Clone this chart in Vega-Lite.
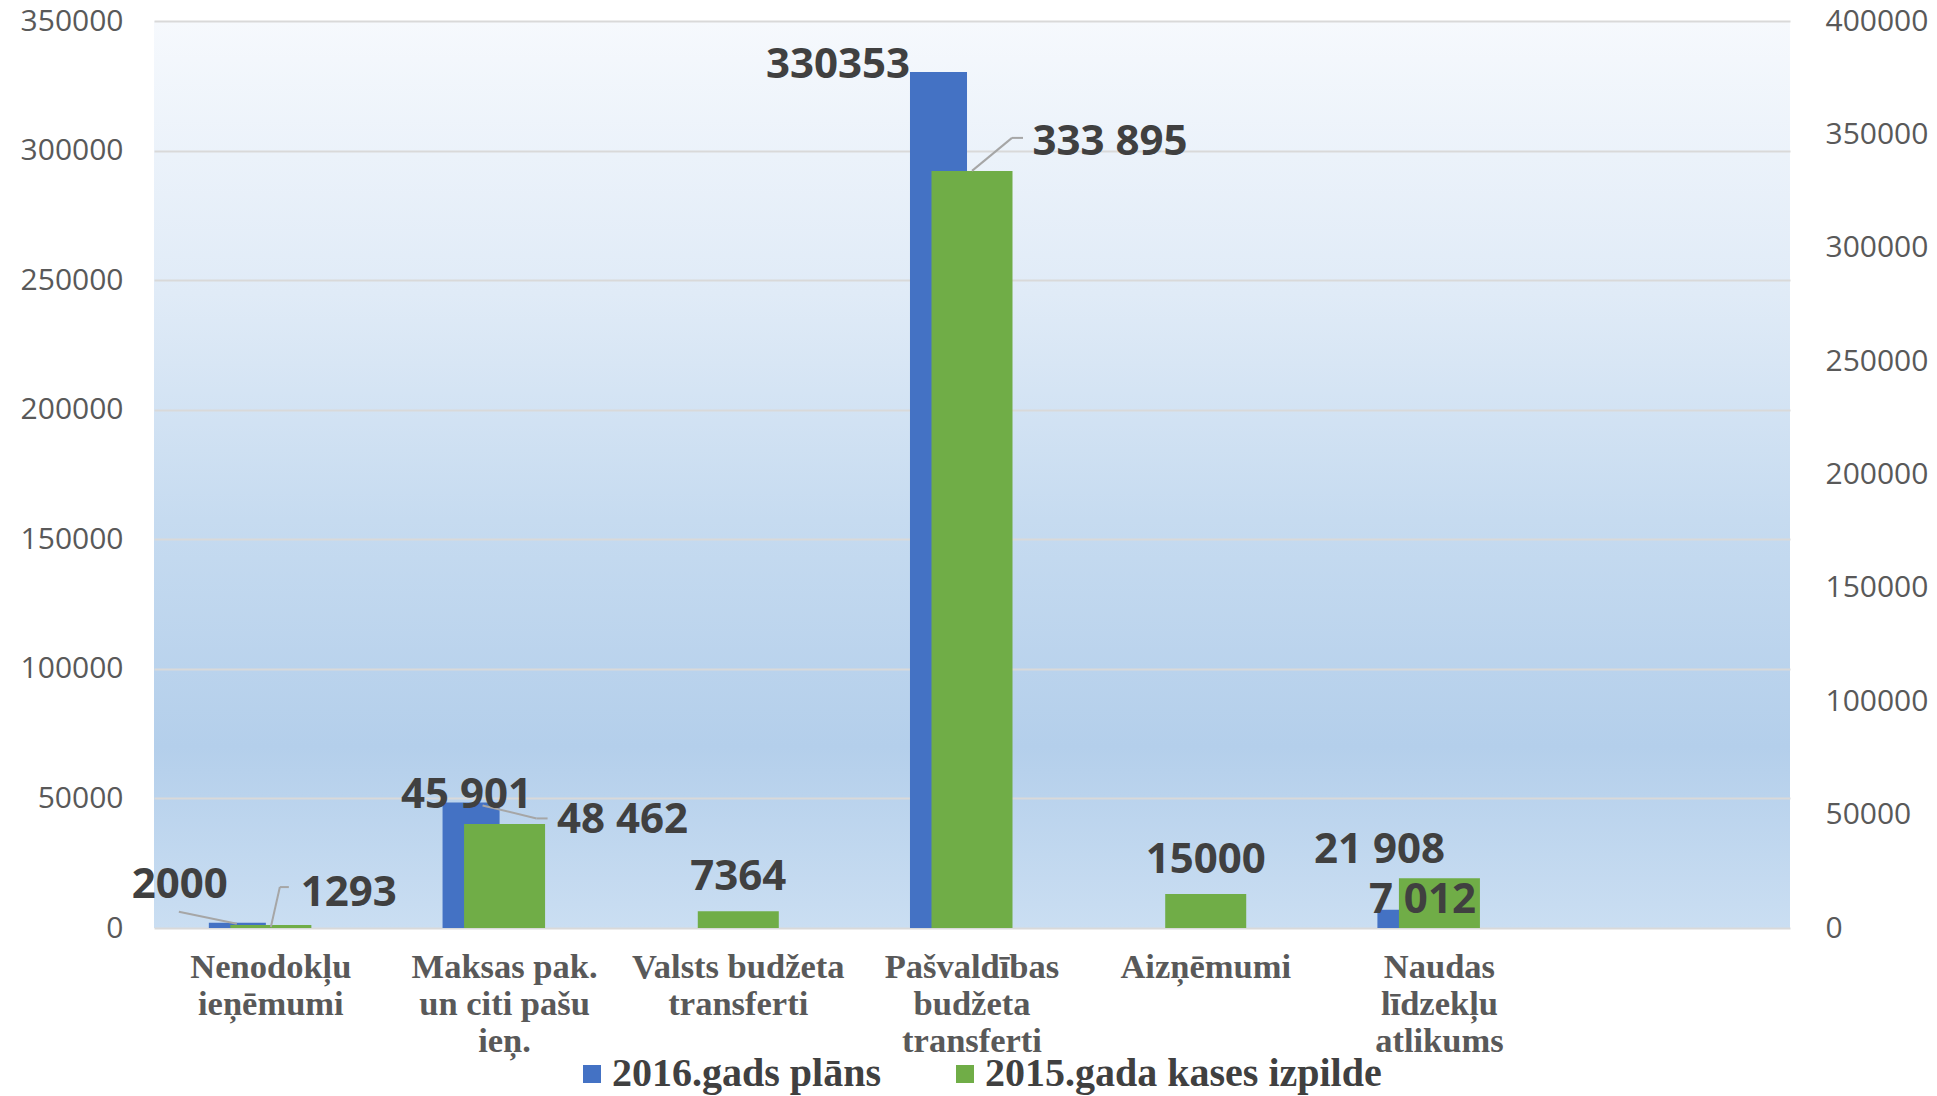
{
  "$schema": "https://vega.github.io/schema/vega-lite/v6.json",
  "width": 1636,
  "height": 907,
  "autosize": {"type": "none"},
  "padding": {"left": 154, "top": 21, "right": 147, "bottom": 168},
  "background": "#ffffff",
  "config": {
    "view": {
      "stroke": null,
      "fill": {
        "gradient": "linear", "x1": 0, "y1": 0, "x2": 0, "y2": 1,
        "stops": [
          {"offset": 0, "color": "#f6f9fd"},
          {"offset": 0.3, "color": "#e0ebf7"},
          {"offset": 0.55, "color": "#c6dbf0"},
          {"offset": 0.8, "color": "#b4cfeb"},
          {"offset": 1, "color": "#cadef2"}
        ]
      }
    },
    "axis": {"ticks": false, "tickSize": 0, "domain": false, "title": null},
    "text": {"font": "Open Sans", "fontWeight": "bold", "fontSize": 42, "color": "#404040", "baseline": "middle", "align": "center"},
    "rule": {"color": "#a6a6a6", "strokeWidth": 2},
    "legend": {
      "orient": "none", "legendX": 418, "legendY": 1033, "direction": "horizontal",
      "title": null, "symbolType": "square", "symbolSize": 324, "symbolStrokeWidth": 0,
      "labelFont": "Liberation Serif", "labelFontWeight": "bold", "labelFontSize": 40,
      "labelColor": "#404040", "labelOffset": 0, "columnPadding": 64, "padding": 0, "labelLimit": 0
    }
  },
  "data": {
    "values": [
      {"cat": "Nenodokļu|ieņēmumi", "series": "2016.gads plāns", "value": 2000, "label": "2000"},
      {"cat": "Maksas pak.|un citi pašu|ieņ.", "series": "2016.gads plāns", "value": 48462, "label": "48 462"},
      {"cat": "Pašvaldības|budžeta|transferti", "series": "2016.gads plāns", "value": 330353, "label": "330353"},
      {"cat": "Naudas|līdzekļu|atlikums", "series": "2016.gads plāns", "value": 7012, "label": "7 012"},
      {"cat": "Nenodokļu|ieņēmumi", "series": "2015.gada kases izpilde", "value": 1293, "label": "1293"},
      {"cat": "Maksas pak.|un citi pašu|ieņ.", "series": "2015.gada kases izpilde", "value": 45901, "label": "45 901"},
      {"cat": "Valsts budžeta|transferti", "series": "2015.gada kases izpilde", "value": 7364, "label": "7364"},
      {"cat": "Pašvaldības|budžeta|transferti", "series": "2015.gada kases izpilde", "value": 333895, "label": "333 895"},
      {"cat": "Aizņēmumi", "series": "2015.gada kases izpilde", "value": 15000, "label": "15000"},
      {"cat": "Naudas|līdzekļu|atlikums", "series": "2015.gada kases izpilde", "value": 21908, "label": "21 908"}
    ]
  },
  "encoding": {
    "x": {
      "field": "cat", "type": "nominal", "sort": null,
      "scale": {
        "domain": ["Nenodokļu|ieņēmumi", "Maksas pak.|un citi pašu|ieņ.", "Valsts budžeta|transferti", "Pašvaldības|budžeta|transferti", "Aizņēmumi", "Naudas|līdzekļu|atlikums", " "],
        "paddingInner": 0, "paddingOuter": 0
      },
      "axis": {
        "orient": "bottom", "labelExpr": "split(datum.label, '|')", "labelFont": "Liberation Serif",
        "labelFontWeight": "bold", "labelFontSize": 34.5, "labelLineHeight": 37, "labelColor": "#595959",
        "labelPadding": 22, "labelAngle": 0, "title": null, "grid": false, "labelLimit": 0, "labelOverlap": false
      }
    }
  },
  "layer": [
    {
      "transform": [{"filter": "datum.series === '2016.gads plāns'"}],
      "mark": {"type": "bar", "width": {"band": 0.244}, "xOffset": -33.5},
      "encoding": {
        "y": {
          "field": "value", "type": "quantitative", "stack": null,
          "scale": {"domain": [0, 350000], "nice": false},
          "axis": {
            "orient": "left", "values": [0, 50000, 100000, 150000, 200000, 250000, 300000, 350000],
            "format": "d", "grid": true, "gridColor": "#d9d9d9", "gridWidth": 2,
            "labelFont": "Open Sans", "labelFontSize": 30, "labelColor": "#595959", "labelPadding": 31, "title": null
          }
        },
        "color": {
          "field": "series", "type": "nominal",
          "scale": {"domain": ["2016.gads plāns", "2015.gada kases izpilde"], "range": ["#4472c4", "#70ad47"]},
          "legend": {}
        }
      }
    },
    {
      "transform": [{"filter": "datum.series === '2015.gada kases izpilde'"}],
      "mark": {"type": "bar", "width": {"band": 0.3466}},
      "encoding": {
        "y": {
          "field": "value", "type": "quantitative", "stack": null,
          "scale": {"domain": [0, 400000], "nice": false},
          "axis": {
            "orient": "right", "values": [0, 50000, 100000, 150000, 200000, 250000, 300000, 350000, 400000],
            "format": "d", "grid": false, "labelFont": "Open Sans", "labelFontSize": 30,
            "labelColor": "#595959", "labelPadding": 35, "title": null
          }
        },
        "color": {
          "field": "series", "type": "nominal",
          "scale": {"domain": ["2016.gads plāns", "2015.gada kases izpilde"], "range": ["#4472c4", "#70ad47"]},
          "legend": null
        }
      }
    },
    {
      "transform": [{"filter": "datum.label === '2000'"}],
      "mark": {"type": "rule", "xOffset": -92, "yOffset": -11, "x2Offset": -34, "y2Offset": 1},
      "encoding": {"y": {"field": "value", "type": "quantitative", "scale": {"domain": [0, 350000], "nice": false}, "axis": null}, "x2": {"field": "cat"}, "y2": {"field": "value"}}
    },
    {
      "transform": [{"filter": "datum.label === '48 462'"}],
      "mark": {"type": "rule", "xOffset": -22, "yOffset": 3, "x2Offset": 32, "y2Offset": 16},
      "encoding": {"y": {"field": "value", "type": "quantitative", "scale": {"domain": [0, 350000], "nice": false}, "axis": null}, "x2": {"field": "cat"}, "y2": {"field": "value"}}
    },
    {
      "transform": [{"filter": "datum.label === '48 462'"}],
      "mark": {"type": "rule", "xOffset": 32, "yOffset": 16, "x2Offset": 43, "y2Offset": 16},
      "encoding": {"y": {"field": "value", "type": "quantitative", "scale": {"domain": [0, 350000], "nice": false}, "axis": null}, "x2": {"field": "cat"}, "y2": {"field": "value"}}
    },
    {
      "transform": [{"filter": "datum.label === '1293'"}],
      "mark": {"type": "rule", "xOffset": 0, "yOffset": 2, "x2Offset": 9, "y2Offset": -38},
      "encoding": {"y": {"field": "value", "type": "quantitative", "scale": {"domain": [0, 400000], "nice": false}, "axis": null}, "x2": {"field": "cat"}, "y2": {"field": "value"}}
    },
    {
      "transform": [{"filter": "datum.label === '1293'"}],
      "mark": {"type": "rule", "xOffset": 9, "yOffset": -38, "x2Offset": 18, "y2Offset": -38},
      "encoding": {"y": {"field": "value", "type": "quantitative", "scale": {"domain": [0, 400000], "nice": false}, "axis": null}, "x2": {"field": "cat"}, "y2": {"field": "value"}}
    },
    {
      "transform": [{"filter": "datum.label === '333 895'"}],
      "mark": {"type": "rule", "xOffset": 0, "yOffset": 0, "x2Offset": 40, "y2Offset": -33},
      "encoding": {"y": {"field": "value", "type": "quantitative", "scale": {"domain": [0, 400000], "nice": false}, "axis": null}, "x2": {"field": "cat"}, "y2": {"field": "value"}}
    },
    {
      "transform": [{"filter": "datum.label === '333 895'"}],
      "mark": {"type": "rule", "xOffset": 40, "yOffset": -33, "x2Offset": 51, "y2Offset": -33},
      "encoding": {"y": {"field": "value", "type": "quantitative", "scale": {"domain": [0, 400000], "nice": false}, "axis": null}, "x2": {"field": "cat"}, "y2": {"field": "value"}}
    },
    {
      "transform": [{"filter": "datum.label === '2000'"}],
      "mark": {"type": "text", "dx": -91, "dy": -38},
      "encoding": {"y": {"field": "value", "type": "quantitative", "scale": {"domain": [0, 350000], "nice": false}, "axis": null}, "text": {"field": "label"}}
    },
    {
      "transform": [{"filter": "datum.label === '48 462'"}],
      "mark": {"type": "text", "dx": 118, "dy": 18},
      "encoding": {"y": {"field": "value", "type": "quantitative", "scale": {"domain": [0, 350000], "nice": false}, "axis": null}, "text": {"field": "label"}}
    },
    {
      "transform": [{"filter": "datum.label === '330353'"}],
      "mark": {"type": "text", "dx": -134, "dy": -7},
      "encoding": {"y": {"field": "value", "type": "quantitative", "scale": {"domain": [0, 350000], "nice": false}, "axis": null}, "text": {"field": "label"}}
    },
    {
      "transform": [{"filter": "datum.label === '7 012'"}],
      "mark": {"type": "text", "dx": -17, "dy": -10},
      "encoding": {"y": {"field": "value", "type": "quantitative", "scale": {"domain": [0, 350000], "nice": false}, "axis": null}, "text": {"field": "label"}}
    },
    {
      "transform": [{"filter": "datum.label === '1293'"}],
      "mark": {"type": "text", "dx": 78, "dy": -32},
      "encoding": {"y": {"field": "value", "type": "quantitative", "scale": {"domain": [0, 400000], "nice": false}, "axis": null}, "text": {"field": "label"}}
    },
    {
      "transform": [{"filter": "datum.label === '45 901'"}],
      "mark": {"type": "text", "dx": -38, "dy": -29},
      "encoding": {"y": {"field": "value", "type": "quantitative", "scale": {"domain": [0, 400000], "nice": false}, "axis": null}, "text": {"field": "label"}}
    },
    {
      "transform": [{"filter": "datum.label === '7364' || datum.label === '15000'"}],
      "mark": {"type": "text", "dx": 0, "dy": -34},
      "encoding": {"y": {"field": "value", "type": "quantitative", "scale": {"domain": [0, 400000], "nice": false}, "axis": null}, "text": {"field": "label"}}
    },
    {
      "transform": [{"filter": "datum.label === '333 895'"}],
      "mark": {"type": "text", "dx": 138, "dy": -29},
      "encoding": {"y": {"field": "value", "type": "quantitative", "scale": {"domain": [0, 400000], "nice": false}, "axis": null}, "text": {"field": "label"}}
    },
    {
      "transform": [{"filter": "datum.label === '21 908'"}],
      "mark": {"type": "text", "dx": -60, "dy": -28},
      "encoding": {"y": {"field": "value", "type": "quantitative", "scale": {"domain": [0, 400000], "nice": false}, "axis": null}, "text": {"field": "label"}}
    }
  ],
  "resolve": {"scale": {"y": "independent"}}
}
